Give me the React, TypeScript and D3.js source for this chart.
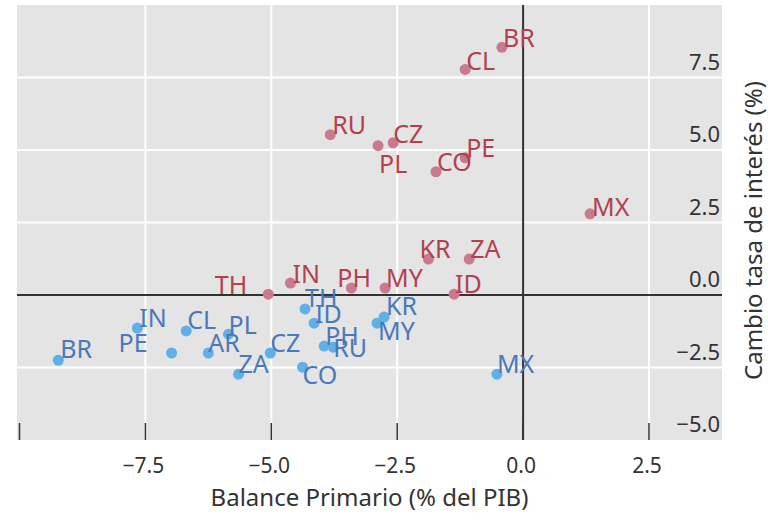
import React from 'react';
import * as d3 from 'd3';

// Países (códigos) y valores
const redCodes = ['BR', 'CL', 'RU', 'CZ', 'PL', 'PE', 'CO', 'MX', 'KR', 'ZA', 'TH', 'IN', 'PH', 'MY', 'ID'];
const redBalance = [-0.42, -1.15, -3.83, -2.58, -2.88, -1.15, -1.73, 1.33, -1.88, -1.07, -5.06, -4.62, -3.41, -2.74, -1.37];
const redRate = [8.54, 7.78, 5.53, 5.25, 5.15, 4.73, 4.25, 2.8, 1.24, 1.24, 0.03, 0.41, 0.24, 0.24, 0.03];

const blueCodes = ['BR', 'PE', 'IN', 'CL', 'AR', 'PL', 'CZ', 'ZA', 'TH', 'ID', 'PH', 'RU', 'CO', 'KR', 'MY', 'MX'];
const blueBalance = [-9.23, -6.98, -7.66, -6.69, -6.25, -5.85, -5.02, -5.65, -4.33, -4.15, -3.95, -3.77, -4.38, -2.76, -2.9, -0.52];
const blueRate = [-2.25, -2.0, -1.14, -1.24, -2.0, -1.35, -2.0, -2.73, -0.48, -0.97, -1.76, -1.8, -2.49, -0.76, -0.97, -2.73];

const xTicks = [-10, -7.5, -5, -2.5, 0, 2.5];
const xTickLabels = ['', '−7.5', '−5.0', '−2.5', '0.0', '2.5'];
const yTicks = [-5, -2.5, 0, 2.5, 5, 7.5];
const yTickLabels = ['−5.0', '−2.5', '0.0', '2.5', '5.0', '7.5'];

// desplazamiento de etiquetas (px) respecto al punto, estilo ggrepel
const redNudge: Record<string, [number, number, string]> = {
  BR: [1, 0, 'start'], CL: [1, 1, 'start'], RU: [2, -1, 'start'], CZ: [0, 0, 'start'],
  PL: [1, 27, 'start'], PE: [1, -1, 'start'], CO: [1, -1, 'start'], MX: [2, 2, 'start'],
  KR: [-9, -1, 'start'], ZA: [1, -1, 'start'], TH: [-21, 0, 'end'], IN: [2, 0, 'start'],
  PH: [-14, -1, 'start'], MY: [1, -1, 'start'], ID: [1, -1, 'start'],
};
const blueNudge: Record<string, [number, number, string]> = {
  BR: [2, -2, 'start'], PE: [-24, -1, 'end'], IN: [2, -1, 'start'], CL: [1, -2, 'start'],
  AR: [0, -1, 'start'], PL: [0, 0, 'start'], CZ: [0, -1, 'start'], ZA: [0, -1, 'start'],
  TH: [0, -2, 'start'], ID: [1, 0, 'start'], PH: [1, -1, 'start'], RU: [0, 10, 'start'],
  CO: [0, 17, 'start'], KR: [2, -2, 'start'], MY: [1, 17, 'start'], MX: [0, -1, 'start'],
};

const W = 768;
const H = 521;
const panel = { left: 17, right: 722, top: 5, bottom: 440 };
const font = '"Noto Sans", "Open Sans", sans-serif';

export default function App() {
  const x = d3.scaleLinear().domain([-10.05, 3.95]).range([panel.left, panel.right]);
  const y = d3.scaleLinear().domain([-5, 10]).range([panel.bottom, panel.top]);

  const red = redCodes.map((c, i) => ({ code: c, bx: redBalance[i], ry: redRate[i] }));
  const blue = blueCodes.map((c, i) => ({ code: c, bx: blueBalance[i], ry: blueRate[i] }));

  const series = [
    { data: blue, dot: '#5fb0e6', text: '#4a78b8', nudge: blueNudge },
    { data: red, dot: '#c97a8e', text: '#b3404f', nudge: redNudge },
  ];

  return (
    <svg width={W} height={H} style={{ position: 'absolute', left: 0, top: 0, background: '#fff' }}>
      <rect x={panel.left} y={panel.top} width={panel.right - panel.left} height={panel.bottom - panel.top} fill="#e4e4e4" />
      {/* rejilla */}
      {xTicks.filter(t => t !== 0 && t !== -10).map(t => (
        <line key={'gx' + t} x1={x(t)} x2={x(t)} y1={panel.top} y2={panel.bottom} stroke="#fff" strokeWidth={2} />
      ))}
      {yTicks.filter(t => t !== 0 && t !== -5).map(t => (
        <line key={'gy' + t} x1={panel.left} x2={panel.right} y1={y(t)} y2={y(t)} stroke="#fff" strokeWidth={2} />
      ))}
      {/* ejes en cero */}
      <line x1={x(0)} x2={x(0)} y1={panel.top} y2={panel.bottom} stroke="#333" strokeWidth={2} />
      <line x1={panel.left} x2={panel.right} y1={y(0)} y2={y(0)} stroke="#333" strokeWidth={2} />
      {/* marcas x */}
      {xTicks.map(t => (
        <line key={'tx' + t} x1={x(t)} x2={x(t)} y1={panel.bottom - 17} y2={panel.bottom} stroke="#333" strokeWidth={1.5} />
      ))}
      {/* etiquetas y dentro del panel */}
      {yTicks.map((t, i) => (
        <text key={'ly' + t} x={720} y={y(t) - 8} textAnchor="end" fontFamily={font} fontSize={22} fill="#333">
          {yTickLabels[i]}
        </text>
      ))}
      {/* puntos y etiquetas */}
      {series.map((s, si) => (
        <g key={'s' + si}>
          {s.data.map(d => (
            <circle key={'c' + d.code} cx={x(d.bx)} cy={y(d.ry)} r={5.5} fill={s.dot} />
          ))}
          {s.data.map(d => {
            const [dx, dy, anchor] = s.nudge[d.code] || [1, 0, 'start'];
            return (
              <text key={'t' + d.code} x={x(d.bx) + dx} y={y(d.ry) + dy} textAnchor={anchor}
                fontFamily={font} fontSize={25} fill={s.text}>
                {d.code}
              </text>
            );
          })}
        </g>
      ))}
      {/* etiquetas x */}
      {xTicks.map((t, i) => (
        <text key={'lx' + t} x={x(t) - 2} y={473} textAnchor="middle" fontFamily={font} fontSize={21} fill="#333">
          {xTickLabels[i]}
        </text>
      ))}
      <text x={(panel.left + panel.right) / 2} y={506} textAnchor="middle" fontFamily={font} fontSize={24} fill="#333">
        Balance Primario (% del PIB)
      </text>
      <text transform={`translate(762,${(panel.top + panel.bottom) / 2 + 8}) rotate(-90)`} textAnchor="middle"
        fontFamily={font} fontSize={24} fill="#333">
        Cambio tasa de interés  (%)
      </text>
    </svg>
  );
}
